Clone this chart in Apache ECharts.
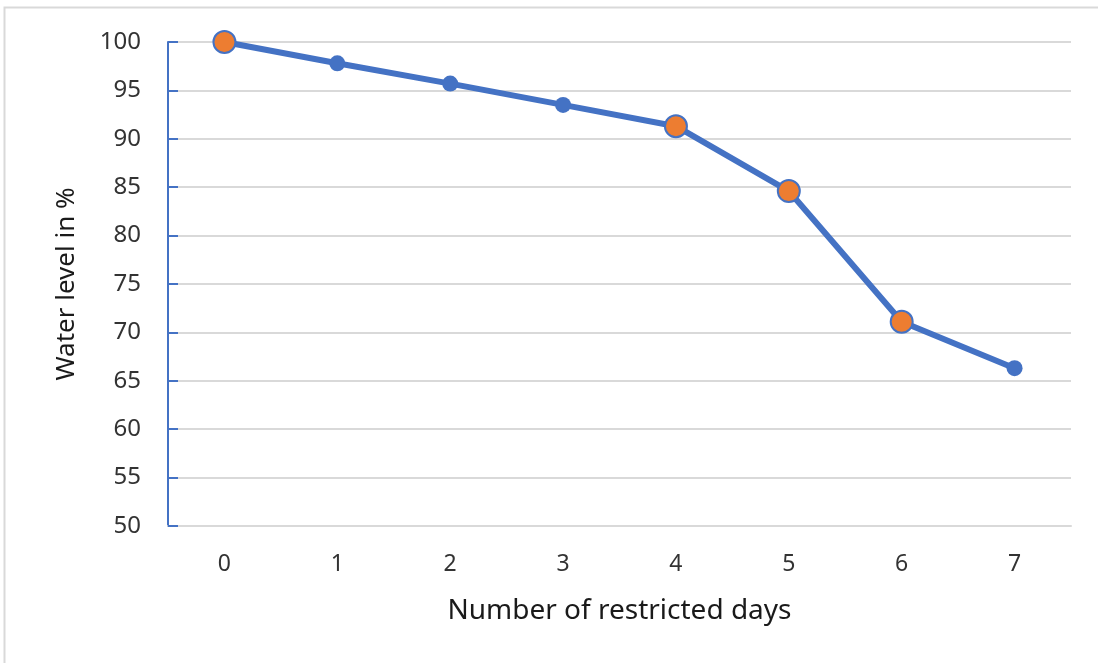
<!DOCTYPE html>
<html><head><meta charset="utf-8">
<script src="https://cdn.jsdelivr.net/npm/echarts@6/dist/echarts.min.js"></script>
<style>html,body{margin:0;padding:0;background:#fff}#c{width:1098px;height:663px}</style>
</head><body><div id="c"></div>
<script>
const days = ['0','1','2','3','4','5','6','7'];
const waterLevel = [100, 97.8, 95.7, 93.5, 91.3, 84.6, 71.1, 66.3];
const highlighted = [0, 4, 5, 6];
const yMin = 50, yMax = 100, yStep = 5;

const chart = echarts.init(document.getElementById('c'));
const font = '"Noto Sans", "Open Sans", sans-serif';
chart.setOption({
  animation: false,
  graphic: [{type:'rect', shape:{x:4.5,y:7.5,width:1200,height:700}, style:{fill:'none', stroke:'#d9d9d9', lineWidth:2}}],
  grid: {left:168, right:27, top:42, bottom:137},
  xAxis: {
    type:'category', data: days, boundaryGap:true,
    name:'Number of restricted days', nameLocation:'middle', nameGap:71,
    nameTextStyle:{fontSize:28, color:'#1a1a1a', fontFamily:font},
    axisLine:{show:true, lineStyle:{color:'#d9d9d9', width:2}},
    axisTick:{show:false},
    axisLabel:{fontSize:23, color:'#333', margin:27, fontFamily:font}
  },
  yAxis: {
    type:'value', min:yMin, max:yMax, interval:yStep,
    name:'Water level in %', nameLocation:'middle', nameGap:88, nameRotate:90,
    nameTextStyle:{fontSize:26, color:'#1a1a1a', fontFamily:font},
    axisLine:{show:true, lineStyle:{color:'#4472C4', width:2}},
    axisTick:{show:true, inside:true, length:10, lineStyle:{color:'#4472C4', width:2}},
    axisLabel:{fontSize:24, color:'#333', margin:27, fontFamily:font},
    splitLine:{show:true, lineStyle:{color:'#d9d9d9', width:2}}
  },
  series: [{
    type:'line', data: waterLevel.map((v,i)=> highlighted.includes(i)
      ? {value:v, symbolSize:22, itemStyle:{color:'#ED7D31', borderColor:'#4472C4', borderWidth:2}}
      : {value:v}),
    symbol:'circle', symbolSize:16,
    lineStyle:{color:'#4472C4', width:6},
    itemStyle:{color:'#4472C4'}
  }]
});
</script></body></html>
